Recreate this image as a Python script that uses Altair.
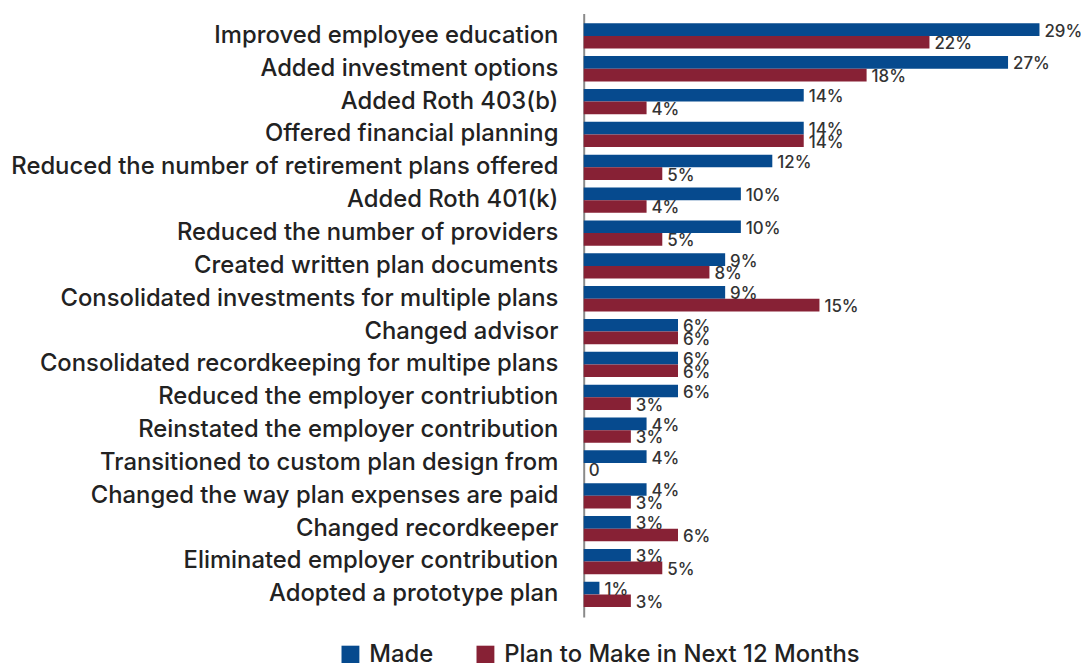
import altair as alt
import pandas as pd

categories = [
    "Improved employee education",
    "Added investment options",
    "Added Roth 403(b)",
    "Offered financial planning",
    "Reduced the number of retirement plans offered",
    "Added Roth 401(k)",
    "Reduced the number of providers",
    "Created written plan documents",
    "Consolidated investments for multiple plans",
    "Changed advisor",
    "Consolidated recordkeeping for multipe plans",
    "Reduced the employer contriubtion",
    "Reinstated the employer contribution",
    "Transitioned to custom plan design from",
    "Changed the way plan expenses are paid",
    "Changed recordkeeper",
    "Eliminated employer contribution",
    "Adopted a prototype plan",
]
made = [29, 27, 14, 14, 12, 10, 10, 9, 9, 6, 6, 6, 4, 4, 4, 3, 3, 1]
plan = [22, 18, 4, 14, 5, 4, 5, 8, 15, 6, 6, 3, 3, 0, 3, 6, 5, 3]
series = ["Made", "Plan to Make in Next 12 Months"]
colors = ["#064a8e", "#872135"]

rows = []
for i, c in enumerate(categories):
    for s, vals in zip(series, [made, plan]):
        v = vals[i]
        rows.append({"category": c, "series": s, "value": v,
                     "label": f"{v}%" if v else "0"})
df = pd.DataFrame(rows)

LABEL_FONT = "Inter"

y_enc = alt.Y("category:N", sort=categories, title=None,
              scale=alt.Scale(paddingInner=0.23, paddingOuter=0.3),
              axis=alt.Axis(labelFontSize=24, labelFont=LABEL_FONT, labelFontWeight=500,
                            labelColor="#222222", labelPadding=26, ticks=False,
                            labelLimit=700, domainColor="#8a8a8a", domainWidth=2))
yoff = alt.YOffset("series:N", sort=series, scale=alt.Scale(paddingInner=0, paddingOuter=0))
x_enc = alt.X("value:Q", scale=alt.Scale(domain=[0, 30], nice=False), axis=None)

bars = alt.Chart(df).mark_bar(cornerRadius=0).encode(
    y=y_enc, yOffset=yoff, x=x_enc,
    color=alt.Color("series:N", sort=series,
                    scale=alt.Scale(domain=series, range=colors),
                    legend=alt.Legend(title=None, orient="none", direction="horizontal",
                                      legendX=-247, legendY=634, symbolType="square",
                                      symbolSize=324, symbolStrokeWidth=0,
                                      labelFontSize=24, labelFont=LABEL_FONT,
                                      labelFontWeight=500, labelColor="#222222",
                                      labelLimit=600, labelOffset=7, columnPadding=40)),
)

texts = alt.Chart(df).mark_text(align="left", baseline="middle", dx=5, dy=2,
                                fontSize=17, font=LABEL_FONT, fontWeight=500,
                                color="#333333").encode(
    y=y_enc, yOffset=yoff, x=x_enc, text="label:N")

chart = (bars + texts).properties(
    width=475, height=608,
    autosize=alt.AutoSizeParams(type="none"),
    padding={"left": 580, "top": 3, "right": 26, "bottom": 45},
).configure_view(stroke=None)

chart.save("out.html", embed_options={"renderer": "svg", "actions": False})
